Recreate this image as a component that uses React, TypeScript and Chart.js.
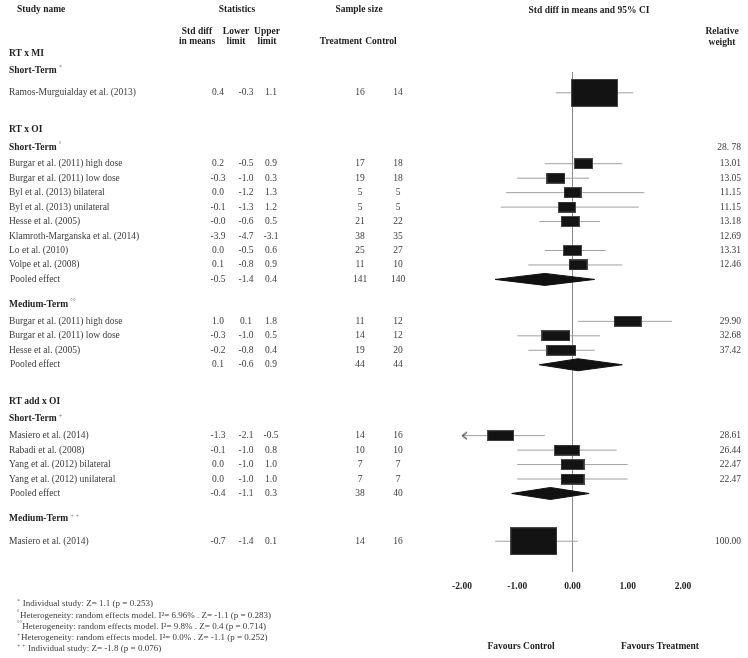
import React, { useEffect, useRef } from "react";
import { Chart, registerables } from "chart.js";

Chart.register(...registerables);

// ---------------- DATA ----------------
const rowLabels = [
  "RT x MI",
  "Short-Term",
  "Ramos-Murguialday et al. (2013)",
  "RT x OI",
  "Short-Term",
  "Burgar et al. (2011) high dose",
  "Burgar et al. (2011) low dose",
  "Byl et al. (2013) bilateral",
  "Byl et al. (2013) unilateral",
  "Hesse et al. (2005)",
  "Klamroth-Marganska et al. (2014)",
  "Lo et al. (2010)",
  "Volpe et al. (2008)",
  "Pooled effect",
  "Medium-Term",
  "Burgar et al. (2011) high dose",
  "Burgar et al. (2011) low dose",
  "Hesse et al. (2005)",
  "Pooled effect",
  "RT add x OI",
  "Short-Term",
  "Masiero et al. (2014)",
  "Rabadi et al. (2008)",
  "Yang et al. (2012) bilateral",
  "Yang et al. (2012) unilateral",
  "Pooled effect",
  "Medium-Term",
  "Masiero et al. (2014)",
];
const rowKinds = [
  "group", "sub", "study",
  "group", "sub", "study", "study", "study", "study", "study", "study", "study", "study", "pooled",
  "sub", "study", "study", "study", "pooled",
  "group", "sub", "study", "study", "study", "study", "pooled",
  "sub", "study",
];
const rowMarks = [
  null, "*", null,
  null, "°", null, null, null, null, null, null, null, null, null,
  "°°", null, null, null, null,
  null, "+", null, null, null, null, null,
  "+ +", null,
];
const effects = [
  null, null, 0.4,
  null, null, 0.2, -0.3, 0.0, -0.1, -0.04, -3.9, 0.0, 0.1, -0.5,
  null, 1.0, -0.3, -0.2, 0.1,
  null, null, -1.3, -0.1, 0.0, 0.0, -0.4,
  null, -0.7,
];
const lowerLimits = [
  null, null, -0.3,
  null, null, -0.5, -1.0, -1.2, -1.3, -0.6, -4.7, -0.5, -0.8, -1.4,
  null, 0.1, -1.0, -0.8, -0.6,
  null, null, -2.1, -1.0, -1.0, -1.0, -1.1,
  null, -1.4,
];
const upperLimits = [
  null, null, 1.1,
  null, null, 0.9, 0.3, 1.3, 1.2, 0.5, -3.1, 0.6, 0.9, 0.4,
  null, 1.8, 0.5, 0.4, 0.9,
  null, null, -0.5, 0.8, 1.0, 1.0, 0.3,
  null, 0.1,
];
const nTreatment = [
  null, null, 16,
  null, null, 17, 19, 5, 5, 21, 38, 25, 11, 141,
  null, 11, 14, 19, 44,
  null, null, 14, 10, 7, 7, 38,
  null, 14,
];
const nControl = [
  null, null, 14,
  null, null, 18, 18, 5, 5, 22, 35, 27, 10, 140,
  null, 12, 12, 20, 44,
  null, null, 16, 10, 7, 7, 40,
  null, 16,
];
const relativeWeights = [
  null, null, null,
  null, "28. 78", "13.01", "13.05", "11.15", "11.15", "13.18", "12.69", "13.31", "12.46", null,
  null, "29.90", "32.68", "37.42", null,
  null, null, "28.61", "26.44", "22.47", "22.47", null,
  null, "100.00",
];
const xTickValues = [-2, -1, 0, 1, 2];
const footnoteMarks = ["*", "°", "°°", "+", "+ +"];
const footnoteTexts = [
  " Individual study: Z= 1.1 (p = 0.253)",
  "Heterogeneity: random effects model. I²= 6.96% . Z= -1.1 (p = 0.283)",
  "Heterogeneity: random effects model. I²= 9.8% . Z= 0.4 (p = 0.714)",
  "Heterogeneity: random effects model. I²= 0.0% . Z= -1.1 (p = 0.252)",
  " Individual study: Z= -1.8 (p = 0.076)",
];

// ---------------- LAYOUT / STYLE ----------------
const W = 748;
const H = 658;
const SERIF = '"Liberation Serif", "Times New Roman", Times, serif';
const TEXT = "#3c3c3c";
const BOLD = "#1e1e1e";
const X_MIN = -2;
const X_MAX = 2;

function isSingle(i: number) {
  const next = rowKinds[i + 1];
  return next !== "study" && next !== "pooled";
}

function computeRowPositions() {
  const v: number[] = [0];
  for (let i = 1; i < rowKinds.length; i++) {
    const k = rowKinds[i];
    const p = rowKinds[i - 1];
    let g = 1;
    if (k === "group") g = 2.55;
    else if (k === "sub") g = p === "group" ? 1.2 : 1.75;
    else if (p === "sub") g = isSingle(i) ? 1.55 : 1.15;
    else g = 1;
    v.push(v[i - 1] + g);
  }
  return v;
}

function makeBox(w: number, h: number) {
  const c = document.createElement("canvas");
  c.width = w;
  c.height = h;
  const g = c.getContext("2d")!;
  g.fillStyle = "#131313";
  g.fillRect(0, 0, w, h);
  g.strokeStyle = "#4a4a4a";
  g.lineWidth = 1;
  g.strokeRect(0.5, 0.5, w - 1, h - 1);
  return c;
}

function makeArrow() {
  const c = document.createElement("canvas");
  c.width = 16;
  c.height = 10;
  const g = c.getContext("2d")!;
  g.strokeStyle = "#555";
  g.lineWidth = 1.4;
  g.beginPath();
  g.moveTo(13, 1.5);
  g.lineTo(8.5, 5);
  g.lineTo(13, 8.5);
  g.stroke();
  return c;
}

export default function App() {
  const ref = useRef<HTMLCanvasElement | null>(null);

  useEffect(() => {
    const canvas = ref.current;
    if (!canvas) return;
    const rowV = computeRowPositions();
    const yMin = 1.31;
    const yMax = rowV[rowV.length - 1] + 2.1;

    const boxPts: any[] = [];
    const boxImgs: HTMLCanvasElement[] = [];
    const whiskers: any[] = [];
    const diamonds: any[] = [];
    const arrows: any[] = [];
    const halfDiamond = 6 / (500 / (yMax - yMin));

    rowKinds.forEach((k, i) => {
      const e = effects[i];
      const lo = lowerLimits[i];
      const hi = upperLimits[i];
      if (e === null || lo === null || hi === null) return;
      const y = rowV[i];
      if (k === "study") {
        const wStr = relativeWeights[i];
        const w = wStr ? parseFloat(wStr) : 100;
        const bw = Math.round(47 * Math.pow(w / 100, 0.44));
        const bh = w >= 99 ? 28 : 11;
        boxPts.push({ x: e, y });
        boxImgs.push(makeBox(bw, bh));
        whiskers.push({
          type: "scatter",
          data: [{ x: lo, y }, { x: hi, y }],
          showLine: true,
          borderColor: "#a0a0a0",
          borderWidth: 1,
          pointRadius: 0,
          order: 3,
        });
        if (lo < X_MIN && hi > X_MIN) arrows.push({ x: X_MIN, y });
      } else if (k === "pooled") {
        diamonds.push({
          type: "scatter",
          data: [
            { x: lo, y },
            { x: e, y: y - halfDiamond },
            { x: hi, y },
            { x: e, y: y + halfDiamond },
            { x: lo, y },
          ],
          showLine: true,
          fill: "shape",
          backgroundColor: "#111",
          borderColor: "#111",
          borderWidth: 1,
          pointRadius: 0,
          order: 1,
        });
      }
    });

    const arrowImg = makeArrow();

    const datasets: any[] = [
      {
        type: "scatter",
        data: boxPts,
        pointStyle: boxImgs,
        pointRadius: 5,
        order: 0,
      },
      {
        type: "scatter",
        data: arrows,
        pointStyle: arrowImg,
        pointRadius: 5,
        clip: false,
        order: 0,
      },
      ...diamonds,
      ...whiskers,
    ];

    const textPlugin = {
      id: "forestText",
      beforeDraw(chart: any) {
        const ctx = chart.ctx;
        ctx.save();
        ctx.fillStyle = "#fff";
        ctx.fillRect(0, 0, chart.width, chart.height);
        ctx.restore();
      },
      afterDraw(chart: any) {
        const ctx = chart.ctx as CanvasRenderingContext2D;
        const ys = chart.scales.y;
        const bold = (s: number) => `bold ${s}px ${SERIF}`;
        const reg = (s: number) => `${s}px ${SERIF}`;
        const put = (t: string, x: number, y: number, font: string, align: CanvasTextAlign, color: string) => {
          ctx.font = font;
          ctx.textAlign = align;
          ctx.fillStyle = color;
          ctx.fillText(t, x, y);
        };
        ctx.save();
        ctx.textBaseline = "middle";

        // headers
        put("Study name", 17, 10, bold(9.5), "left", BOLD);
        put("Statistics", 237, 10, bold(9.5), "center", BOLD);
        put("Sample size", 359, 10, bold(9.5), "center", BOLD);
        put("Std diff in means and 95% CI", 589, 11, bold(9.5), "center", BOLD);
        put("Std diff", 197, 32, bold(9.5), "center", BOLD);
        put("in means", 197, 42, bold(9.5), "center", BOLD);
        put("Lower", 236, 32, bold(9.5), "center", BOLD);
        put("limit", 236, 42, bold(9.5), "center", BOLD);
        put("Upper", 267, 32, bold(9.5), "center", BOLD);
        put("limit", 267, 42, bold(9.5), "center", BOLD);
        put("Treatment", 341, 42, bold(9.5), "center", BOLD);
        put("Control", 381, 42, bold(9.5), "center", BOLD);
        put("Relative", 722, 32, bold(9.5), "center", BOLD);
        put("weight", 722, 43, bold(9.5), "center", BOLD);

        // rows
        rowKinds.forEach((k, i) => {
          const y = ys.getPixelForValue(rowV[i]);
          const label = rowLabels[i];
          if (k === "group" || k === "sub") {
            put(label, 9, y, bold(9.5), "left", BOLD);
            const m = rowMarks[i];
            if (m) {
              ctx.font = bold(9.5);
              const w = ctx.measureText(label).width;
              put(m, 9 + w + 2, y - 3, reg(6.5), "left", "#777");
            }
          } else {
            put(label, k === "pooled" ? 10 : 9, y, reg(9.5), "left", TEXT);
          }
          const e = effects[i];
          const lo = lowerLimits[i];
          const hi = upperLimits[i];
          if (e !== null) put(e.toFixed(1), 218, y, reg(9.5), "center", TEXT);
          if (lo !== null) put(lo.toFixed(1), 246, y, reg(9.5), "center", TEXT);
          if (hi !== null) put(hi.toFixed(1), 271, y, reg(9.5), "center", TEXT);
          const nt = nTreatment[i];
          const nc = nControl[i];
          if (nt !== null) put(String(nt), 360, y, reg(9.5), "center", TEXT);
          if (nc !== null) put(String(nc), 398, y, reg(9.5), "center", TEXT);
          const rw = relativeWeights[i];
          if (rw) put(rw, 741, y, reg(9.5), "right", TEXT);
        });

        // favours labels
        put("Favours Control", 521, 647, bold(9.5), "center", BOLD);
        put("Favours Treatment", 660, 647, bold(9.5), "center", BOLD);

        // footnotes
        footnoteTexts.forEach((t, i) => {
          const y = 604 + i * 11.2;
          ctx.font = reg(6);
          const mw = ctx.measureText(footnoteMarks[i]).width;
          put(footnoteMarks[i], 17, y - 2.5, reg(6), "left", "#666");
          put(t, 17 + mw + 0.5, y, reg(9), "left", TEXT);
        });
        ctx.restore();
      },
    };

    const chart = new Chart(canvas, {
      type: "scatter",
      data: { datasets },
      options: {
        animation: false,
        responsive: false,
        maintainAspectRatio: false,
        events: [],
        layout: { padding: { left: 462, right: W - 683, top: 72, bottom: 57 } },
        plugins: { legend: { display: false }, tooltip: { enabled: false } },
        scales: {
          x: {
            type: "linear",
            min: X_MIN,
            max: X_MAX,
            afterBuildTicks: (s: any) => {
              s.ticks = xTickValues.map((v) => ({ value: v }));
            },
            ticks: {
              callback: (v: any) => Number(v).toFixed(2),
              font: { family: SERIF, size: 9.5, weight: "bold" },
              color: BOLD,
              padding: 9,
              maxRotation: 0,
              autoSkip: false,
            },
            grid: {
              drawTicks: false,
              color: (c: any) => (c.tick && c.tick.value === 0 ? "#8a8a8a" : "rgba(0,0,0,0)"),
              lineWidth: 1,
            },
            border: { display: false },
          },
          y: {
            type: "linear",
            reverse: true,
            min: yMin,
            max: yMax,
            display: false,
          },
        },
      } as any,
      plugins: [textPlugin],
    });

    return () => chart.destroy();
  }, []);

  return (
    <div style={{ position: "fixed", left: 0, top: 0, width: W, height: H, background: "#fff" }}>
      <canvas ref={ref} width={W} height={H} style={{ display: "block", width: W, height: H }} />
    </div>
  );
}
